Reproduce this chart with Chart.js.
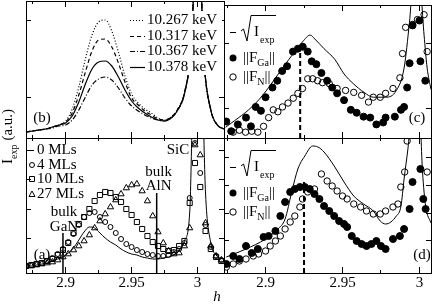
<!DOCTYPE html>
<html>
<head>
<meta charset="utf-8">
<script src="https://cdn.jsdelivr.net/npm/chart.js@4.4.1/dist/chart.umd.min.js"></script>
<style>
  html, body { margin: 0; padding: 0; background: #fff; }
  #wrap { position: relative; width: 436px; height: 306px; }
  canvas { position: absolute; left: 0; top: 0; }
</style>
</head>
<body>
<div id="wrap">
  <canvas id="pb" width="436" height="306"></canvas>
  <canvas id="pa" width="436" height="306"></canvas>
  <canvas id="pc" width="436" height="306"></canvas>
  <canvas id="pd" width="436" height="306"></canvas>
</div>
<script>
// ---- panel (b): energy dependence, 0 MLs sample ----
const bH = [2.870, 2.875, 2.880, 2.885, 2.890, 2.895, 2.900, 2.905, 2.910, 2.915, 2.920, 2.925, 2.930, 2.935, 2.940, 2.945,
            2.950, 2.955, 2.960, 2.965, 2.970, 2.975, 2.980, 2.985, 2.990, 2.995, 3.000, 3.005, 3.010, 3.015, 3.020];
const b10267 = [6, 7, 8, 9, 11, 13, 17, 29, 51, 79, 103, 116, 118, 107, 86, 62, 44, 35, 29, 25, 20, 18, 21, 29, 45, 90, 220, 75, 28, 13, 9];
const b10317 = [6, 7, 8, 9, 11, 13, 16, 25, 43, 66, 87, 98, 99, 91, 75, 56, 40, 33, 27, 23, 19, 18, 21, 29, 45, 90, 220, 75, 28, 13, 9];
const b10367 = [6, 7, 8, 9, 10, 12, 13, 18, 28, 41, 53, 59, 61, 58, 50, 40, 32, 27, 23, 20, 18, 17, 20, 28, 44, 88, 220, 75, 28, 13, 9];
const b10378 = [6, 7, 8, 9, 11, 13, 15, 22, 36, 54, 69, 76, 77, 72, 61, 48, 37, 30, 25, 21, 18, 17, 20, 28, 44, 89, 220, 75, 28, 13, 9];
const bLabels = ['10.267 keV', '10.317 keV', '10.367 keV', '10.378 keV'];

// ---- panel (a): thickness series ----
const aH = [2.870, 2.874, 2.878, 2.882, 2.886, 2.890, 2.894, 2.898, 2.902, 2.906, 2.910, 2.914, 2.918, 2.922, 2.926, 2.930, 2.934, 2.938, 2.942,
            2.946, 2.950, 2.954, 2.958, 2.962, 2.966, 2.970, 2.974, 2.978, 2.982, 2.986, 2.990, 2.994, 2.998, 3.002, 3.006, 3.010, 3.014, 3.018];
const a0 = [7, 7, 8, 9, 10, 12, 14, 16, 20, 25, 33, 41, 46, 45, 40, 35, 31, 28, 24, 21, 19, 18, 16, 15, 14, 14, 15, 16, 18, 22, 32, 60, 250, 250, 80, 30, 18, 13];
const a4 = [7, 8, 9, 10, 12, 15, 19, 24, 31, 39, 48, 56, 60, 61, 56, 51, 46, 40, 34, 29, 26, 23, 21, 19, 18, 17, 17, 18, 21, 24, 30, 75, 130, 100, 48, 26, 17, 13];
const a10 = [7, 8, 9, 10, 12, 14, 18, 23, 30, 40, 49, 56, 64, 72, 78, 81, 80, 76, 71, 64, 58, 51, 44, 37, 31, 27, 24, 22, 23, 27, 32, 70, 110, 86, 42, 24, 16, 12];
const a27 = [7, 7, 8, 9, 10, 11, 13, 16, 19, 23, 27, 32, 38, 45, 52, 59, 66, 73, 79, 85, 88, 89, 82, 72, 57, 41, 30, 22, 19, 20, 27, 45, 128, 118, 50, 27, 17, 13];
const aLabels = ['0 MLs', '4 MLs', '10 MLs', '27 MLs'];
const bulkGaN = 2.898, bulkAlN = 2.969;
const bulkGaNTop = 40, bulkAlNTop = 80;

// ---- panel (c) ----
const cLineH = [2.874, 2.880, 2.889, 2.896, 2.902, 2.911, 2.919, 2.924, 2.929, 2.932, 2.938, 2.945, 2.951, 2.957, 2.964, 2.970, 2.978, 2.985, 2.990, 2.9935, 2.996, 3.000, 3.003, 3.005, 3.0075];
const cLineV = [11, 18, 29, 40, 52, 72, 89, 99, 106, 102, 92, 81, 66, 56, 47, 42, 42, 49, 72, 119, 160, 160, 106, 72, 50];
const cGaH = [2.8745, 2.8777, 2.882, 2.8873, 2.8905, 2.8936, 2.897, 2.900, 2.9045, 2.9076, 2.9108, 2.914, 2.9178, 2.921, 2.9242, 2.9274, 2.930, 2.933, 2.9363, 2.940,
              2.9433, 2.9465, 2.951, 2.9554, 2.9592, 2.9637, 2.968, 2.972, 2.9764, 2.978, 2.984, 2.988, 2.990, 2.992, 2.9936, 2.9955, 3.000, 3.0006, 3.0038];
const cGaV = [17, 7, 14, 21, 12, 32, 28, 42, 52, 59, 69, 74, 89, 92, 94, 89, 79, 76, 67, 59, 52, 46, 39, 29, 26, 22, 21, 14, 16, 21, 22, 29, 32, 52, 77, 116, 121, 79, 59];
const cNH = [2.879, 2.883, 2.887, 2.891, 2.895, 2.8987, 2.902, 2.905, 2.908, 2.911, 2.9146, 2.918, 2.921, 2.924, 2.9274, 2.9306, 2.9338, 2.937,
             2.9414, 2.9465, 2.952, 2.9573, 2.9624, 2.9669, 2.970, 2.9745, 2.978, 2.9828, 2.9873, 2.989, 2.991, 2.9955, 2.9987, 3.003, 3.005];
const cNV = [6, 8, 6, 7, 6, 12, 21, 29, 27, 32, 36, 41, 46, 51, 61, 61, 59, 57, 56, 51, 49, 47, 44, 37, 42, 42, 46, 51, 62, 87, 114, 117, 122, 127, 89];
const cMark = 2.9225, cMarkTop = 95;

// ---- panel (d) ----
const dLineH = [2.8745, 2.8873, 2.900, 2.908, 2.9127, 2.917, 2.921, 2.9255, 2.9306, 2.934, 2.938, 2.9446, 2.951, 2.9573, 2.9637, 2.970, 2.9745, 2.978, 2.985, 2.988, 2.990, 2.9925, 2.995, 3.000, 3.002, 3.004, 3.0075];
const dLineV = [16, 24, 34, 44, 54, 81, 104, 117, 127, 126, 121, 107, 91, 77, 69, 62, 52, 49, 57, 67, 94, 124, 160, 160, 101, 67, 50];
const dGaH = [2.8745, 2.879, 2.883, 2.8873, 2.891, 2.895, 2.8987, 2.902, 2.9064, 2.9096, 2.9127, 2.916, 2.919, 2.9223, 2.9255, 2.9287, 2.9318, 2.935, 2.938, 2.9414,
              2.9446, 2.9478, 2.951, 2.953, 2.956, 2.9592, 2.9624, 2.9656, 2.9688, 2.972, 2.975, 2.978, 2.9828, 2.9873, 2.990, 2.9936, 2.9955, 3.0006, 3.0025, 3.004];
const dGaV = [9, 17, 14, 27, 20, 24, 36, 37, 42, 57, 71, 81, 84, 86, 86, 84, 79, 74, 67, 62, 57, 52, 49, 46, 37, 32, 29, 27, 29, 32, 27, 24, 34, 37, 44, 64, 91, 104, 74, 64];
const dNH = [2.8745, 2.879, 2.883, 2.8873, 2.892, 2.8955, 2.900, 2.903, 2.9064, 2.9096, 2.9127, 2.916, 2.919, 2.9223, 2.924, 2.9274, 2.9318, 2.9363,
             2.940, 2.9433, 2.9465, 2.950, 2.953, 2.9573, 2.9618, 2.9656, 2.970, 2.9745, 2.978, 2.9828, 2.986, 2.9879, 2.9904, 2.992, 3.005];
const dNV = [6, 9, 12, 14, 17, 19, 22, 27, 32, 37, 44, 51, 57, 66, 74, 81, 84, 99, 92, 87, 82, 77, 74, 69, 66, 62, 59, 59, 62, 66, 69, 86, 101, 132, 101];
const dMark = 2.925, dMarkTop = 91;

// axis ticks
const xMajor = [2.9, 2.95, 3];
const xMinor = [2.875, 2.925, 2.975];
const bY = [41, 118], aY = [35, 64, 94, 123], cY = [30, 97], dY = [33, 60, 88, 116];

const SERIF = "'Liberation Serif', 'Times New Roman', serif";
const F15 = '15px ' + SERIF, F10 = '10px ' + SERIF;
const LABEL_H = 26;
const pts = (hs, vs) => hs.map((h, i) => ({ x: h, y: vs[i] }));

function axes(xMin, xMax, yMax, yTicks, showLabels) {
  const fit = size => s => {
    s.paddingLeft = s.paddingRight = s.paddingTop = s.paddingBottom = 0;
    if (s.isHorizontal()) s.height = size; else s.width = size;
  };
  const setTicks = vals => s => { s.ticks = vals.map(v => ({ value: v })); };
  const xa = (pos, vals, len, lab, border, weight) => ({
    type: 'linear', position: pos, min: xMin, max: xMax, weight,
    afterFit: fit(lab ? LABEL_H : 0), afterBuildTicks: setTicks(vals),
    grid: { drawOnChartArea: false, drawTicks: true, tickLength: -len, color: '#000', lineWidth: 1 },
    border: { display: border, color: '#000', width: 1 },
    ticks: { display: lab, autoSkip: false, maxRotation: 0, padding: len + 1, color: '#000',
             font: { family: SERIF, size: 15 }, callback: v => String(+v.toFixed(3)) }
  });
  const ya = pos => ({
    type: 'linear', position: pos, min: 0, max: yMax,
    afterFit: fit(0), afterBuildTicks: setTicks(yTicks),
    grid: { drawOnChartArea: false, drawTicks: true, tickLength: -5, color: '#000', lineWidth: 1 },
    border: { display: true, color: '#000', width: 1 },
    ticks: { display: false }
  });
  return {
    xm: xa('bottom', xMinor, 3, false, false, 0),
    x: xa('bottom', xMajor, 6, showLabels, true, 1),
    xt: xa('top', xMajor, 6, false, true, 0),
    xtm: xa('top', xMinor, 3, false, false, 0),
    y: ya('left'),
    yr: ya('right')
  };
}

const bDash = [[1, 2], [4, 3], [5, 2, 1, 2], []];

// text layers drawn on top of each panel
const drawers = {};

drawers.pb = ctx => {
  ctx.fillStyle = '#fff';
  ctx.fillRect(128, 11, 94, 64);
  ctx.fillStyle = '#000'; ctx.strokeStyle = '#000';
  ctx.font = F15; ctx.textBaseline = 'middle'; ctx.textAlign = 'left';
  bLabels.forEach((t, i) => {
    const y = Math.round(20 + i * 15.5);
    ctx.lineWidth = 1.2; ctx.setLineDash(bDash[i]);
    ctx.beginPath(); ctx.moveTo(130, y + 0.5); ctx.lineTo(145, y + 0.5); ctx.stroke();
    ctx.setLineDash([]);
    ctx.fillText(t, 147, y);
  });
  ctx.textAlign = 'center';
  ctx.fillText('(b)', 42, 118);
};

drawers.pa = (ctx, chart) => {
  ctx.fillStyle = '#000'; ctx.strokeStyle = '#000'; ctx.lineWidth = 1;
  ctx.font = F15; ctx.textBaseline = 'middle'; ctx.textAlign = 'left';
  const ys = [150, 165, 179, 194];
  aLabels.forEach((t, i) => {
    const y = ys[i], sx = 32;
    ctx.beginPath();
    if (i === 0) { ctx.moveTo(29, y + 0.5); ctx.lineTo(34, y + 0.5); }
    else if (i === 1) { ctx.arc(sx, y, 2.5, 0, Math.PI * 2); }
    else if (i === 2) { ctx.rect(sx - 2.5, y - 2.5, 5, 5); }
    else { ctx.moveTo(sx, y - 3); ctx.lineTo(sx + 3, y + 2.5); ctx.lineTo(sx - 3, y + 2.5); ctx.closePath(); }
    ctx.stroke();
    ctx.fillText(t, 37, y);
  });
  ctx.textAlign = 'center';
  const xg = chart.scales.x.getPixelForValue(bulkGaN) + 1;
  const xl = chart.scales.x.getPixelForValue(bulkAlN) + 2;
  ctx.fillText('bulk', xg, 212); ctx.fillText('GaN', xg, 227);
  ctx.fillText('bulk', xl, 172); ctx.fillText('AlN', xl, 186);
  ctx.fillText('SiC', 178, 150);
  ctx.fillText('(a)', 42, 255);
  // y-axis title spanning both left panels
  ctx.save();
  ctx.translate(8, 164); ctx.rotate(-Math.PI / 2);
  ctx.textAlign = 'left';
  ctx.font = F15; ctx.fillText('I', 0, 0);
  let w = ctx.measureText('I').width;
  ctx.font = F10; ctx.fillText('exp', w, 6);
  w += ctx.measureText('exp').width + 4;
  ctx.font = F15; ctx.fillText('(a.u.)', w, 0);
  ctx.restore();
  ctx.font = 'italic ' + F15; ctx.textAlign = 'center';
  ctx.fillText('h', 217, 297);
};

function rightLegend(ctx, dy) {
  ctx.fillStyle = '#000'; ctx.strokeStyle = '#000'; ctx.lineWidth = 1;
  ctx.textBaseline = 'middle'; ctx.textAlign = 'left';
  ctx.beginPath(); ctx.moveTo(230, 32.5 + dy); ctx.lineTo(236, 32.5 + dy); ctx.stroke();
  ctx.beginPath();
  ctx.moveTo(241, 31 + dy); ctx.lineTo(243.5, 29 + dy); ctx.lineTo(247, 41 + dy);
  ctx.lineTo(251, 15.5 + dy); ctx.lineTo(276, 15.5 + dy); ctx.stroke();
  ctx.font = F15; ctx.fillText('I', 254, 32 + dy);
  ctx.font = F10; ctx.fillText('exp', 260, 40 + dy);
  ctx.beginPath(); ctx.arc(233, 58 + dy, 3.5, 0, Math.PI * 2); ctx.fill();
  ctx.beginPath(); ctx.arc(233, 77 + dy, 3.2, 0, Math.PI * 2); ctx.stroke();
  [[58, 'Ga'], [77, 'N']].forEach(([y, sub]) => {
    ctx.font = F15; ctx.fillText('||F', 243, y + dy);
    let w = ctx.measureText('||F').width;
    ctx.font = F10; ctx.fillText(sub, 243 + w, y + 5 + dy);
    w += ctx.measureText(sub).width;
    ctx.font = F15; ctx.fillText('||', 243 + w, y + dy);
  });
}

drawers.pc = ctx => {
  rightLegend(ctx, 0);
  ctx.font = F15; ctx.textAlign = 'center';
  ctx.fillText('(c)', 417, 118);
};

drawers.pd = ctx => {
  rightLegend(ctx, 135);
  ctx.font = F15; ctx.textAlign = 'center';
  ctx.fillText('(d)', 422, 255);
};

Chart.register({
  id: 'notes',
  afterDatasetsDraw(chart) {
    const fn = drawers[chart.canvas.id];
    if (fn) { chart.ctx.save(); fn(chart.ctx, chart); chart.ctx.restore(); }
  }
});

function makePanel(id, box, xr, yMax, yTicks, showLabels, datasets) {
  const padBottom = 306 - box[3] - (showLabels ? LABEL_H : 0);
  return new Chart(document.getElementById(id), {
    type: 'scatter',
    data: { datasets },
    options: {
      responsive: false,
      animation: false,
      events: [],
      layout: { padding: { left: box[0], top: box[1], right: 436 - box[2], bottom: padBottom } },
      plugins: { legend: { display: false }, tooltip: { enabled: false } },
      scales: axes(xr[0], xr[1], yMax, yTicks, showLabels)
    }
  });
}

const lineDs = (data, dash, w) => ({
  data, showLine: true, borderColor: '#000', borderWidth: w, borderDash: dash,
  pointRadius: 0, cubicInterpolationMode: 'monotone'
});
const markDs = (data, style, r, fill) => ({
  data, showLine: false, pointStyle: style, pointRadius: r, pointBorderWidth: 1,
  pointBorderColor: '#000', pointBackgroundColor: fill ? '#000' : 'rgba(0,0,0,0)'
});
const vline = (h, top, dash, w) => ({
  data: [{ x: h, y: 0 }, { x: h, y: top }], showLine: true, borderColor: '#000',
  borderWidth: w, borderDash: dash, pointRadius: 0
});

const leftX = [2.87, 3.02], rightX = [2.873, 3.0075];

makePanel('pb', [26, 1, 224, 138], leftX, 137, bY, false, [
  lineDs(pts(bH, b10267), bDash[0], 1.2),
  lineDs(pts(bH, b10317), bDash[1], 1.2),
  lineDs(pts(bH, b10367), bDash[2], 1.2),
  lineDs(pts(bH, b10378), bDash[3], 1.2)
]);

makePanel('pa', [26, 138, 224, 273], leftX, 135, aY, true, [
  lineDs(pts(aH, a0), [], 1),
  markDs(pts(aH, a4), 'circle', 2.5, false),
  markDs(pts(aH, a10), 'rect', 3.6, false),
  markDs(pts(aH, a27), 'triangle', 3.6, false),
  vline(bulkGaN, bulkGaNTop, [], 1.5),
  vline(bulkAlN, bulkAlNTop, [], 1.5)
]);

makePanel('pc', [224, 1, 435, 138], rightX, 137, cY, false, [
  lineDs(pts(cLineH, cLineV), [], 1),
  markDs(pts(cGaH, cGaV), 'circle', 3.5, true),
  markDs(pts(cNH, cNV), 'circle', 3.2, false),
  vline(cMark, cMarkTop, [5, 3], 2)
]);

makePanel('pd', [224, 138, 435, 273], rightX, 135, dY, true, [
  lineDs(pts(dLineH, dLineV), [], 1),
  markDs(pts(dGaH, dGaV), 'circle', 3.5, true),
  markDs(pts(dNH, dNV), 'circle', 3.2, false),
  vline(dMark, dMarkTop, [5, 3], 2)
]);
</script>
</body>
</html>
